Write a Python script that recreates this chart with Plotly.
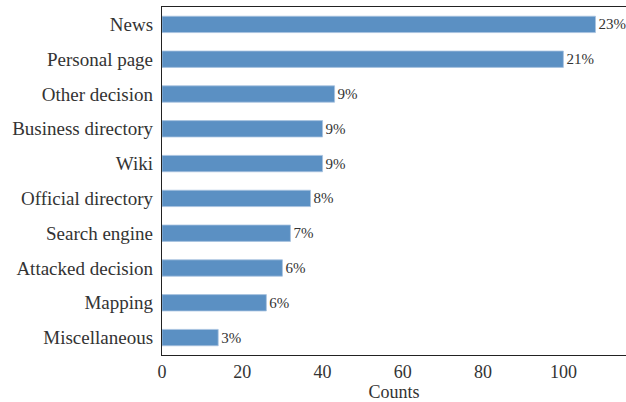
import plotly.graph_objects as go

categories = ["News", "Personal page", "Other decision", "Business directory", "Wiki",
              "Official directory", "Search engine", "Attacked decision", "Mapping", "Miscellaneous"]
counts = [108, 100, 43, 40, 40, 37, 32, 30, 26, 14]
pct_labels = ["23%", "21%", "9%", "9%", "9%", "8%", "7%", "6%", "6%", "3%"]
x_ticks = [0, 20, 40, 60, 80, 100]

FONT = "Liberation Serif"

fig = go.Figure(go.Bar(
    x=counts, y=categories, orientation="h",
    width=0.47,
    marker=dict(color="#5b90c3", line=dict(color="#a8c3e0", width=0.8)),
    text=pct_labels, textposition="outside", cliponaxis=False,
    textfont=dict(family=FONT, size=15, color="#333333"),
))

fig.update_layout(
    width=632, height=402,
    margin=dict(l=162, r=6, t=7, b=47, autoexpand=False),
    paper_bgcolor="white", plot_bgcolor="white",
    showlegend=False,
    font=dict(family=FONT, size=18, color="#333333"),
    uniformtext=dict(minsize=15, mode="show"),
)
fig.update_xaxes(
    range=[0, 115.6], tickvals=x_ticks, showgrid=False, zeroline=False,
    showline=True, linecolor="#222222", linewidth=1.3, mirror=True,
    ticks="", automargin=False, tickfont=dict(family=FONT, size=18, color="#333333"),
    title=dict(text="Counts", font=dict(family=FONT, size=18, color="#333333"), standoff=3),
)
fig.update_yaxes(
    categoryorder="array", categoryarray=categories, autorange="reversed",
    showgrid=False, zeroline=False, automargin=False,
    showline=True, linecolor="#222222", linewidth=1.3, mirror=False,
    ticks="", ticklabelstandoff=4,
    tickfont=dict(family=FONT, size=19, color="#333333"),
)

fig.write_html(
    "out.html",
    config={"displayModeBar": False},
    post_script=("document.body.style.margin='0';document.body.style.padding='0';"
                 "document.body.style.overflow='hidden';"
                 "document.documentElement.style.overflow='hidden';"),
)
